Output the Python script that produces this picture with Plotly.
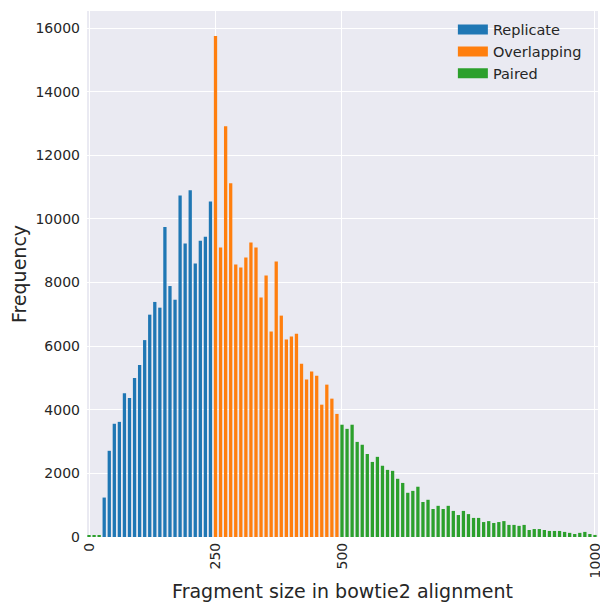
import plotly.graph_objects as go

# Bin positions (fragment size, step 10)
replicate_x = list(range(30, 250, 10))
replicate = [1240, 2710, 3560, 3620, 4520, 4370, 5000, 5410, 6190, 6990,
             7390, 7210, 9750, 7890, 7460, 10740, 9230, 10900, 8600, 9310,
             9440, 10550]

overlapping_x = list(range(250, 500, 10))
overlapping = [15750, 9100, 12910, 11120, 8570, 8470, 8790, 9260, 9100, 7530,
               8220, 6460, 8660, 6960, 6210, 6300, 6390, 5450, 4950, 5200,
               5070, 4160, 4790, 4350, 3870]

paired_x = [0, 10, 20] + list(range(500, 1010, 10))
paired = [35, 35, 35,
          3530, 3400, 3530, 2990, 2900, 2610, 2360, 2520, 2240, 2110,
          2080, 1830, 1700, 1390, 1450, 1580, 1100, 1170, 880, 980,
          880, 980, 820, 690, 820, 720, 600, 600, 470, 500,
          440, 470, 500, 380, 380, 350, 380, 220, 250, 250,
          220, 190, 190, 190, 160, 130, 95, 130, 160, 95,
          65]

series_names = ["Replicate", "Overlapping", "Paired"]
series_colors = ["#1f77b4", "#ff7f0e", "#2ca02c"]

y_ticks = [0, 2000, 4000, 6000, 8000, 10000, 12000, 14000, 16000]
x_ticks = [0, 250, 500, 1000]

font_family = "DejaVu Sans"
text_color = "#262626"

fig = go.Figure()
for xs, ys, name, color in zip([replicate_x, overlapping_x, paired_x],
                               [replicate, overlapping, paired],
                               series_names, series_colors):
    fig.add_trace(go.Bar(x=xs, y=ys, name=name, showlegend=False,
                         marker=dict(color=color, line=dict(width=0)),
                         width=6.5))
# legend entries drawn as wide swatches
for name, color in zip(series_names, series_colors):
    fig.add_trace(go.Scatter(x=[None], y=[None], mode="lines", name=name,
                             line=dict(color=color, width=10)))

fig.update_layout(
    width=600, height=602,
    barmode="overlay",
    paper_bgcolor="white",
    plot_bgcolor="#EAEAF2",
    margin=dict(l=87, r=2, t=11, b=65, autoexpand=False),
    font=dict(family=font_family, color=text_color, size=14),
    showlegend=True,
    legend=dict(x=0.716, y=0.995, xanchor="left", yanchor="top",
                bgcolor="rgba(0,0,0,0)", borderwidth=0, itemwidth=30,
                font=dict(size=14.5, color=text_color), tracegroupgap=0),
    xaxis=dict(
        range=[-4, 1006],
        tickvals=x_ticks,
        ticktext=[str(v) for v in x_ticks],
        tickangle=-90,
        showgrid=True, gridcolor="white", gridwidth=1.2,
        zeroline=False, showline=False, automargin=False,
        ticks="", ticklabelstandoff=2, ticklabeloverflow="allow",
        title=dict(text="Fragment size in bowtie2 alignment",
                   font=dict(size=19, color=text_color), standoff=8),
    ),
    yaxis=dict(
        range=[0, 16537],
        tickvals=y_ticks,
        ticktext=[str(v) for v in y_ticks],
        showgrid=True, gridcolor="white", gridwidth=1.2,
        zeroline=False, showline=False, automargin=False,
        ticks="", ticklabelstandoff=6,
        title=dict(text="Frequency", font=dict(size=19, color=text_color),
                   standoff=3),
    ),
)

fig.write_html("out.html", config={"displayModeBar": False},
               post_script="document.body.style.margin='0px';")
